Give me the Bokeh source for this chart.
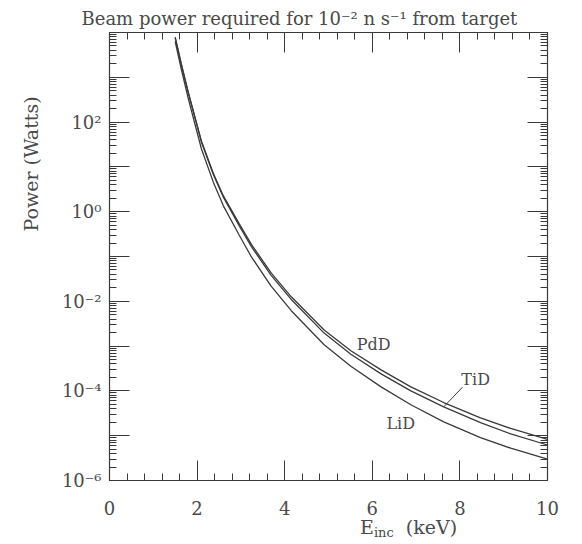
import math
from bokeh.plotting import figure
from bokeh.models import (FixedTicker, SingleIntervalTicker, LinearAxis, LogAxis,
                          CustomJSTickFormatter, Label, Range1d, Title, Div)
from bokeh.layouts import column
from bokeh.embed import file_html
from bokeh.resources import INLINE

# ---- data ----
energy_keV = [1.50, 1.64, 1.80, 2.10, 2.37, 2.60, 2.96, 3.24, 3.69, 4.15,
              4.90, 5.51, 6.20, 6.88, 7.63, 8.47, 9.16, 10.0]
power_PdD = [7900, 2000, 460, 37.2, 7.2, 2.25, 0.54, 0.186, 0.043, 0.0126,
             2.29e-3, 7.9e-4, 2.95e-4, 1.23e-4, 5.5e-5, 2.5e-5, 1.45e-5, 8.3e-6]
power_TiD = [7600, 1900, 440, 35.5, 6.8, 2.1, 0.49, 0.166, 0.038, 0.011,
             1.95e-3, 6.6e-4, 2.4e-4, 1.0e-4, 4.4e-5, 1.95e-5, 1.1e-5, 6.2e-6]
power_LiD = [6300, 1510, 331, 25.1, 4.57, 1.35, 0.302, 0.0977, 0.0219, 6.17e-3,
             1.07e-3, 3.55e-4, 1.23e-4, 4.9e-5, 2.04e-5, 9.1e-6, 5.25e-6, 3.0e-6]

series_names = ["PdD", "TiD", "LiD"]
x_major_ticks = [0, 2, 4, 6, 8, 10]
y_decade_exponents = list(range(-6, 5))

title_text = "Beam power required for 10\u207b\u00b2 n s\u207b\u00b9 from target"
y_label_text = "Power (Watts)"
x_label_html = ('E<sub style="font-size:13px; vertical-align:-3px;">inc</sub>'
                '&nbsp;&nbsp;(keV)')

# ---- annotation positions (data units) ----
label_pos = {"PdD": (6.03, 1.09e-3), "TiD": (8.36, 1.8e-4), "LiD": (6.65, 1.92e-5)}
tid_leader_start = (8.06, 1.21e-4)
tid_leader_index = 14

FONT = "DejaVu Serif"
INK = "#4a4a4a"
LINE = "#3a3a3a"

p = figure(width=574, height=522,
           x_range=Range1d(0, 10), y_range=Range1d(1e-6, 1e4),
           y_axis_type="log", output_backend="svg", toolbar_location=None,
           min_border_left=108, min_border_right=27,
           min_border_top=32, min_border_bottom=42)
p.xgrid.visible = False
p.ygrid.visible = False
p.outline_line_color = LINE
p.background_fill_color = "white"
p.border_fill_color = "white"

# title
p.title.text = title_text
p.title.align = "left"
p.title.offset = -28
p.title.standoff = 7
p.title.text_font = FONT
p.title.text_font_size = "18px"
p.title.text_font_style = "normal"
p.title.text_color = INK

y_major = [10.0 ** k for k in y_decade_exponents]
y_minor = [m * 10.0 ** k for k in y_decade_exponents[:-1] for m in range(2, 10)]

sup_code = """
const e = Math.round(Math.log10(tick));
if (e % 2 !== 0 || e >= 4) return "";
const sup = {"-":"\u207b","0":"\u2070","1":"\u00b9","2":"\u00b2","3":"\u00b3",
             "4":"\u2074","5":"\u2075","6":"\u2076","7":"\u2077","8":"\u2078","9":"\u2079"};
return "10" + String(e).split("").map(c => sup[c]).join("");
"""

def style_axis(ax, show_labels):
    ax.axis_line_color = LINE
    ax.axis_line_width = 1.2
    ax.major_tick_line_color = LINE
    ax.minor_tick_line_color = LINE
    ax.major_tick_in = 20
    ax.major_tick_out = 0
    ax.minor_tick_in = 7
    ax.minor_tick_out = 0
    ax.major_label_text_font = FONT
    ax.major_label_text_color = INK
    if show_labels:
        ax.major_label_text_font_size = "18px"
    else:
        ax.major_label_text_font_size = "0px"
        ax.major_label_standoff = 0

# bottom axis
xa = p.xaxis[0]
xa.ticker = SingleIntervalTicker(interval=2, num_minor_ticks=5)
style_axis(xa, True)
xa.major_label_standoff = 20

# left axis
ya = p.yaxis[0]
ya.ticker = FixedTicker(ticks=y_major, minor_ticks=y_minor)
ya.formatter = CustomJSTickFormatter(code=sup_code)
style_axis(ya, True)
ya.major_label_standoff = 8

# mirrored top / right axes
top = LinearAxis(ticker=SingleIntervalTicker(interval=2, num_minor_ticks=5),
                 formatter=CustomJSTickFormatter(code="return '';"))
style_axis(top, False)
p.add_layout(top, "above")
right = LogAxis(ticker=FixedTicker(ticks=y_major, minor_ticks=y_minor),
                formatter=CustomJSTickFormatter(code="return '';"))
style_axis(right, False)
p.add_layout(right, "right")

# y-axis title (shifted up like the reference)
p.add_layout(Title(text=y_label_text, align="left", offset=249, standoff=34,
                   text_font=FONT, text_font_size="19px", text_font_style="normal",
                   text_color=INK), "left")

# curves
for ys in (power_PdD, power_TiD, power_LiD):
    p.line(energy_keV, ys, line_color=LINE, line_width=1.3)

# curve labels
for name in series_names:
    lx, ly = label_pos[name]
    p.add_layout(Label(x=lx, y=ly, text=name, text_font=FONT, text_font_size="16px",
                       text_color=INK, text_align="center", text_baseline="middle"))
p.line([tid_leader_start[0], energy_keV[tid_leader_index]],
       [tid_leader_start[1], power_TiD[tid_leader_index]],
       line_color=LINE, line_width=1.0)

# x-axis title with a real subscript
xlabel = Div(text=('<div style="margin-left:360px; font-family:\'DejaVu Serif\'; '
                   'font-size:19px; line-height:10px; color:%s; white-space:nowrap;">'
                   '%s</div>') % (INK, x_label_html),
             width=574, height=20, margin=(0, 0, 0, 0))

layout = column(p, xlabel, spacing=0)
open("out.html", "w").write(file_html(layout, INLINE))
